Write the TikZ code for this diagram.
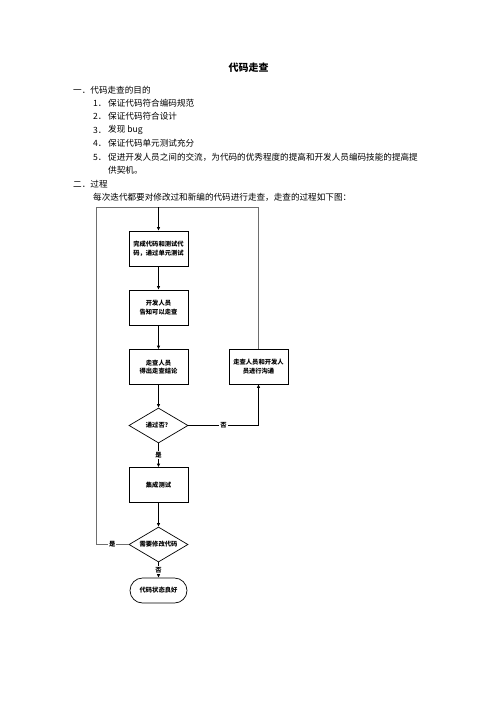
\documentclass[tikz,border=0pt]{standalone}
\usepackage{fontspec}
\newfontfamily\cjk{Noto Sans CJK SC}
\usepackage{tikz}
\usetikzlibrary{arrows.meta,positioning,calc,shapes.geometric,shapes.misc}
\definecolor{LoopGray}{RGB}{110,110,110}
\tikzset{
  body/.style={anchor=west,inner sep=0pt,font=\cjk\fontsize{8.6}{10}\selectfont},
  title/.style={inner sep=0pt,font=\cjk\bfseries\fontsize{10}{12}\selectfont},
  stepbox/.style={rectangle,draw=black,line width=0.7pt,minimum width=59pt,
                  minimum height=35pt,inner sep=1pt,align=center,
                  font=\cjk\bfseries\fontsize{6.3}{8.5}\selectfont},
  decide/.style={diamond,draw=black,line width=0.7pt,aspect=1.7,inner sep=0pt,
                 minimum width=59pt,minimum height=35pt,
                 font=\cjk\bfseries\fontsize{6.3}{8}\selectfont},
  term/.style={rounded rectangle,draw=black,line width=0.7pt,minimum width=59pt,
               minimum height=25pt,inner sep=1pt,
               font=\cjk\bfseries\fontsize{6.3}{8}\selectfont},
  lbl/.style={fill=white,text=black,inner sep=1pt,font=\cjk\bfseries\fontsize{6.3}{8}\selectfont},
  flow/.style={-{Latex[length=3.5pt,width=3.5pt]},line width=0.7pt,black},
  loop/.style={line width=0.7pt,LoopGray},
}
\begin{document}
\begin{tikzpicture}[x=1pt,y=-1pt]
  \useasboundingbox (0,0) rectangle (496,702);
  % page text
  \node[title] (ttl) at (248.5,68) {代码走查};
  \node[body] (h1) at (73,90) {一．代码走查的目的};
  \node[body] (n1) at (93,103) {1．};
  \node[body] (i1) at (108,103) {保证代码符合编码规范};
  \node[body] (n2) at (93,116.5) {2．};
  \node[body] (i2) at (108,116.5) {保证代码符合设计};
  \node[body] (n3) at (93,130) {3．};
  \node[body] (i3) at (108,130) {发现 bug};
  \node[body] (n4) at (93,143.5) {4．};
  \node[body] (i4) at (108,143.5) {保证代码单元测试充分};
  \node[body] (n5) at (93,157) {5．};
  \node[body] (i5) at (108,157) {促进开发人员之间的交流，为代码的优秀程度的提高和开发人员编码技能的提高提};
  \node[body] (i5b) at (108,170.5) {供契机。};
  \node[body] (h2) at (73,184) {二．过程};
  \node[body] (p2) at (93,197.5) {每次迭代都要对修改过和新编的代码进行走查，走查的过程如下图：};

  % flow chart
  \node[stepbox] (code)   at (158.5,248.5) {完成代码和测试代\\码，通过单元测试};
  \node[stepbox] (notify) at (158.5,307.5) {开发人员\\告知可以走查};
  \node[stepbox] (result) at (158.5,367)   {走查人员\\得出走查结论};
  \node[stepbox] (talk)   at (258.5,366.5) {走查人员和开发人\\员进行沟通};
  \node[decide]  (pass)   at (158.5,425.5) {通过否？};
  \node[stepbox] (integ)  at (158.5,485)   {集成测试};
  \node[decide]  (modify) at (158.5,544.5) {需要修改代码};
  \node[term]    (good)   at (158.5,590.5) {代码状态良好};
  \coordinate (tl) at (96,207);
  \coordinate (tr) at (talk.north |- tl);

  \draw[flow] (code) -- (notify);
  \draw[flow] (notify) -- (result);
  \draw[flow] (result) -- (pass);
  \draw[flow] (pass) -- node[lbl]{是} (integ);
  \draw[flow] (integ) -- (modify);
  \draw[flow] (modify) -- node[lbl]{否} (good);
  \draw[flow] (pass.east) -- node[lbl]{否} (pass.east -| talk) -- (talk.south);
  \draw[loop] (modify.west) -- node[lbl]{是} (modify.west -| tl) -- (tl) -- (tr) -- (talk.north);
  \draw[flow] (code.north |- tl) -- (code.north);
\end{tikzpicture}
\end{document}
